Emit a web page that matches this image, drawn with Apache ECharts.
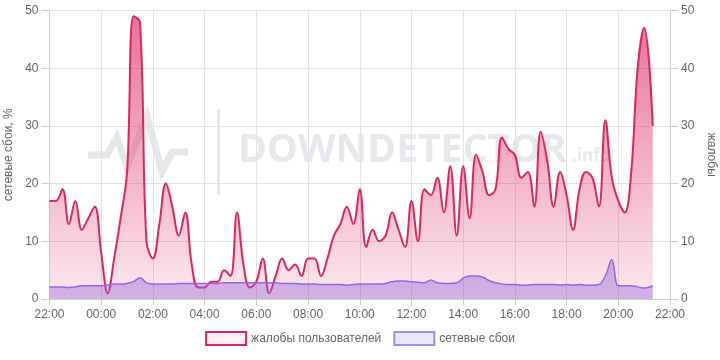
<!DOCTYPE html>
<html><head><meta charset="utf-8">
<script src="https://cdn.jsdelivr.net/npm/echarts@6/dist/echarts.min.js"></script>
<style>html,body{margin:0;padding:0;background:#fff}#c{width:720px;height:360px}</style>
</head><body><div id="c"></div>
<script>
// Time axis: hours elapsed since 22:00; ticks every 2 h
const xTickLabels = ['22:00','00:00','02:00','04:00','06:00','08:00','10:00','12:00','14:00','16:00','18:00','20:00','22:00'];
const yTicks = [0, 10, 20, 30, 40, 50];

// sample times (15-minute reports, last one at 21:20)
const hours = [];
for (let i = 0; i < 93; i++) hours.push(i * 0.25);
hours.push(23 + 20 / 60);

// жалобы пользователей (right axis)
const complaints = [
  17,17,19,13,17,12,14,16,8,1,
  7,14,22,49,48,10,7,13,20,16,
  11,15,6,2,2,3,3,5,4,15,
  6,2,3,7,1,4,7,5,6,4,
  7,7,4,7,11,13,16,13,19,9,
  12,10,11,15,12,9,17,10,19,18,
  21,15,23,11,23,14,25,22,18,19,
  28,26,25,21,22,16,29,24,16,22,
  18,12,19,22,21,16,31,21,17,15,
  22,40,47,30
];

// сетевые сбои, % (left axis)
const outages = [
  2.1,2.1,2.1,2.0,2.1,2.3,2.3,2.3,2.3,2.4,
  2.6,2.6,2.7,3.0,3.7,2.8,2.6,2.6,2.6,2.6,
  2.7,2.7,2.7,2.7,2.7,2.7,2.7,2.8,2.8,2.8,
  2.8,2.8,2.8,2.8,2.8,2.8,2.7,2.7,2.7,2.6,
  2.6,2.6,2.5,2.5,2.5,2.5,2.4,2.5,2.6,2.6,
  2.6,2.6,2.7,3.0,3.1,3.1,3.0,2.9,2.8,3.3,
  2.8,2.7,2.7,2.8,3.6,4.0,4.0,3.8,3.2,2.8,
  2.6,2.5,2.5,2.4,2.4,2.5,2.5,2.5,2.5,2.4,
  2.5,2.4,2.5,2.4,2.4,2.5,4.0,6.8,2.3,2.3,
  2.3,2.1,1.9,2.3
];

const chart = echarts.init(document.getElementById('c'), null, {renderer: 'canvas'});
const FONT = '"Liberation Sans", Arial, sans-serif';
const textGray = '#666';
const gridGray = '#e3e3e3';
const axisGray = '#cfcfcf';

const yAxisCommon = {
  type: 'value', min: yTicks[0], max: yTicks[yTicks.length - 1], interval: 10,
  nameLocation: 'middle',
  nameTextStyle: {color: textGray, fontSize: 12, fontFamily: FONT},
  axisLine: {show: true, lineStyle: {color: axisGray}},
  axisTick: {show: true, length: 8, lineStyle: {color: axisGray}},
  axisLabel: {color: textGray, fontSize: 12, fontFamily: FONT, margin: 11}
};

chart.setOption({
  animation: false,
  backgroundColor: '#fff',
  grid: {left: 49.5, right: 50, top: 10.5, bottom: 61, containLabel: false, outerBoundsMode: 'none'},
  graphic: [
    {type: 'polyline', z: 0, silent: true,
     shape: {points: [[88,155],[107,155],[117,137],[127,167],[147,116],[162,172],[172,152],[188,152]]},
     style: {stroke: '#e6e7ea', lineWidth: 7, fill: null, lineJoin: 'miter'}},
    {type: 'rect', z: 0, silent: true, shape: {x: 217, y: 109, width: 3, height: 86}, style: {fill: '#e6e7ea'}},
    {type: 'text', z: 0, silent: true, left: 238, top: 131,
     style: {text: 'DOWNDETECTOR', fill: '#e7e8eb', font: 'bold 39px "Open Sans", sans-serif'}},
    {type: 'text', z: 0, silent: true, left: 572, top: 148,
     style: {text: '.info', fill: '#e7e8eb', font: 'bold 17px "Open Sans", sans-serif'}}
  ],
  legend: {
    bottom: 9, left: 'center', itemWidth: 40, itemHeight: 13, itemGap: 12,
    textStyle: {color: textGray, fontSize: 12, fontFamily: FONT},
    data: [
      {name: 'жалобы пользователей', icon: 'rect',
       itemStyle: {color: '#fdeef3', borderColor: '#e0245e', borderWidth: 2}},
      {name: 'сетевые сбои', icon: 'rect',
       itemStyle: {color: '#ebe8fd', borderColor: '#a58cf5', borderWidth: 2}}
    ]
  },
  xAxis: {
    type: 'value', min: 0, max: 24, interval: 2,
    axisLine: {show: true, lineStyle: {color: axisGray}},
    axisTick: {show: true, length: 6, lineStyle: {color: axisGray}},
    axisLabel: {color: textGray, fontSize: 12, fontFamily: FONT, margin: 10,
      formatter: v => xTickLabels[Math.round(v / 2)]},
    splitLine: {show: true, lineStyle: {color: gridGray}}
  },
  yAxis: [
    Object.assign({}, yAxisCommon, {
      position: 'left', name: 'сетевые сбои, %', nameGap: 26, nameRotate: 90,
      splitLine: {show: true, lineStyle: {color: gridGray}}
    }),
    Object.assign({}, yAxisCommon, {
      position: 'right', name: 'жалобы', nameGap: 27, nameRotate: -90,
      splitLine: {show: false}
    })
  ],
  series: [
    {
      name: 'жалобы пользователей', type: 'line', yAxisIndex: 1, smooth: 0.4,
      symbol: 'none', z: 2,
      data: hours.map((h, i) => [h, complaints[i]]),
      lineStyle: {color: '#e0245e', width: 2},
      itemStyle: {color: '#e0245e'},
      areaStyle: {color: new echarts.graphic.LinearGradient(0, 0, 0, 1, [
        {offset: 0, color: 'rgba(218,36,98,0.92)'},
        {offset: 1, color: 'rgba(220,40,100,0.15)'}
      ])}
    },
    {
      name: 'сетевые сбои', type: 'line', yAxisIndex: 0, smooth: 0.4,
      symbol: 'none', z: 3,
      data: hours.map((h, i) => [h, outages[i]]),
      lineStyle: {color: '#9d63de', width: 1.5},
      itemStyle: {color: '#9d63de'},
      areaStyle: {color: 'rgba(150,100,220,0.6)'}
    }
  ]
});
</script>
</body></html>
